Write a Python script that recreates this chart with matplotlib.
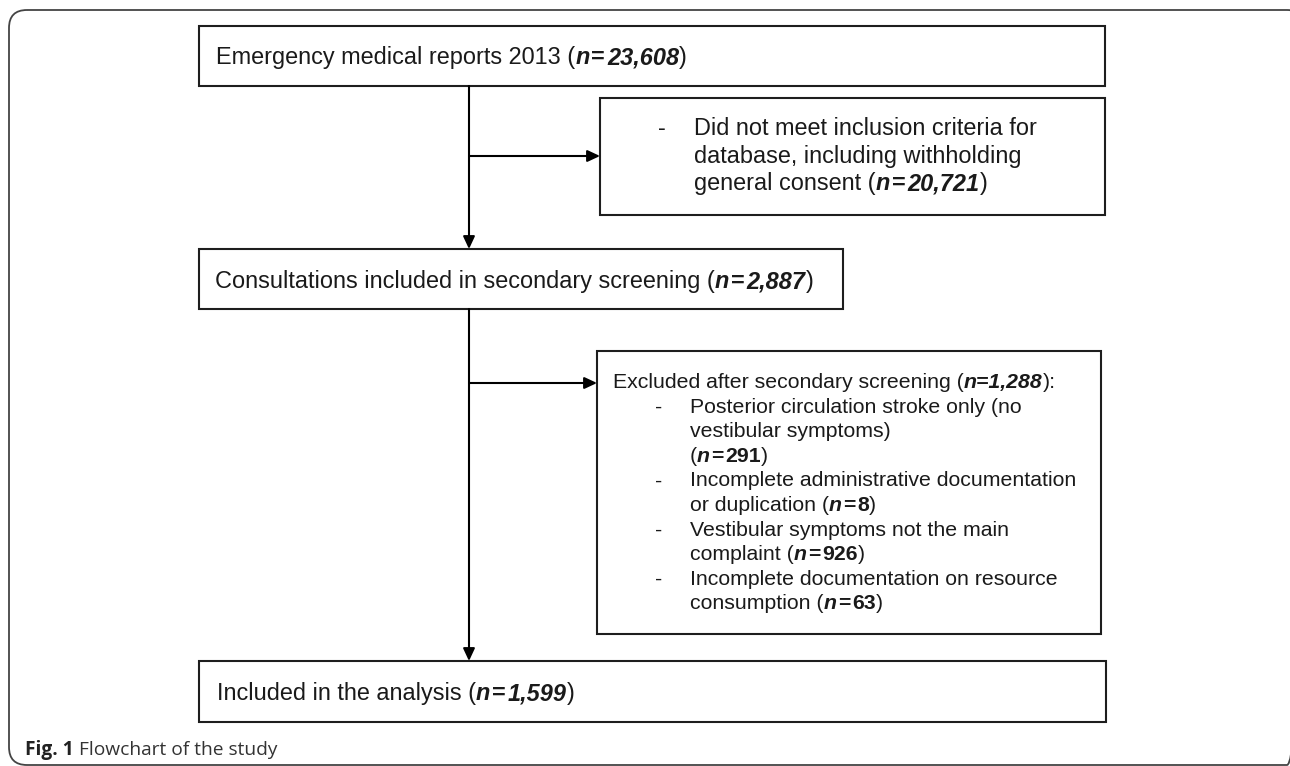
import matplotlib
matplotlib.use("Agg")
import matplotlib.pyplot as plt
from matplotlib.patches import Rectangle, FancyBboxPatch

# counts shown in the flowchart
total_reports = "23,608"
excluded_database = "20,721"
secondary_screening = "2,887"
excluded_secondary = "1,288"
included_analysis = "1,599"

database_reason = ["Did not meet inclusion criteria for",
                   "database, including withholding",
                   "general consent ("]

# wrapped lines for each exclusion reason; the count goes on the last line
exclusion_reasons = [
    ["Posterior circulation stroke only (no", "vestibular symptoms)", "("],
    ["Incomplete administrative documentation", "or duplication ("],
    ["Vestibular symptoms not the main", "complaint ("],
    ["Incomplete documentation on resource", "consumption ("],
]
exclusion_counts = ["291", "8", "926", "63"]

W, H = 1290, 766
FONT = "Liberation Sans"
EDGE = "#1e1e1e"

fig = plt.figure(figsize=(W / 100, H / 100), dpi=100)
ax = fig.add_axes([0, 0, 1, 1])
ax.set_xlim(0, W)
ax.set_ylim(H, 0)
ax.axis("off")
renderer = fig.canvas.get_renderer()


def runs(x, y, parts, size):
    # parts: (text, weight, style) drawn one after the other; a number is a gap in px
    for p in parts:
        if isinstance(p, (int, float)):
            x += p
            continue
        txt, weight, style = p
        t = ax.text(x, y, txt, fontsize=size, family=FONT, fontweight=weight,
                    fontstyle=style, va="baseline", ha="left", color="#1a1a1a")
        x += t.get_window_extent(renderer).width


def box(x0, y0, x1, y1):
    ax.add_patch(Rectangle((x0, y0), x1 - x0, y1 - y0, fill=False,
                           ec=EDGE, lw=1.5))


def arrow(x0, y0, x1, y1):
    ax.annotate("", xy=(x1, y1), xytext=(x0, y0),
                arrowprops=dict(arrowstyle="-|>,head_length=0.75,head_width=0.35",
                                color="black", lw=1.5, shrinkA=0, shrinkB=0))


def n_bi(val):
    return [("n", "bold", "italic"), 2, ("=", "bold", "normal"), 2,
            (val, "bold", "italic")]


# outer rounded frame
ax.add_patch(FancyBboxPatch((27, 28), 1260, 719,
                            boxstyle="round,pad=18,rounding_size=18",
                            fill=False, ec="#444444", lw=1.3, clip_on=False))

main = 16.9
sub = 16.9
small = 15.3

# box 1
box(199, 26, 1105, 86)
runs(216, 64, [("Emergency medical reports 2013 (", "normal", "normal")]
     + n_bi(total_reports) + [(")", "normal", "normal")], main)

# box 2
box(600, 98, 1105, 215)
base = 135
for i, line in enumerate(database_reason):
    y = base + i * 27.5
    if i == 0:
        runs(658, y, [("-", "normal", "normal")], sub)
    parts = [(line, "normal", "normal")]
    if i == len(database_reason) - 1:
        parts += n_bi(excluded_database) + [(")", "normal", "normal")]
    runs(694, y, parts, sub)

# box 3
box(199, 249, 843, 309)
runs(215, 288, [("Consultations included in secondary screening (", "normal", "normal")]
     + n_bi(secondary_screening) + [(")", "normal", "normal")], main)

# box 4
box(597, 351, 1101, 634)
step = 24.6
runs(613, 388, [("Excluded after secondary screening (", "normal", "normal"),
                ("n=" + excluded_secondary, "bold", "italic"),
                ("):", "normal", "normal")], small)
k = 1
for lines, cnt in zip(exclusion_reasons, exclusion_counts):
    for j, line in enumerate(lines):
        y = 388 + k * step
        if j == 0:
            runs(655, y, [("-", "normal", "normal")], small)
        parts = [(line, "normal", "normal")]
        if j == len(lines) - 1:
            parts += [("n", "bold", "italic"), 1.5, ("=", "bold", "normal"), 1.5,
                      (cnt, "bold", "normal"), (")", "normal", "normal")]
        runs(690, y, parts, small)
        k += 1

# box 5
box(199, 661, 1106, 722)
runs(217, 700, [("Included in the analysis (", "normal", "normal")]
     + n_bi(included_analysis) + [(")", "normal", "normal")], main)

# connectors
trunk = 469
arrow(trunk, 86, trunk, 249)
arrow(trunk, 309, trunk, 661)
arrow(trunk, 156, 600, 156)
arrow(trunk, 383, 597, 383)

# caption
t = ax.text(25, 755, "Fig. 1", fontsize=13.8, family="Open Sans", fontweight="bold",
            va="baseline", color="#222222")
ax.text(25 + t.get_window_extent(renderer).width + 5, 755, "Flowchart of the study",
        fontsize=13.8, family="Open Sans", fontweight="normal", va="baseline",
        color="#333333")

fig.savefig("out.png", dpi=100)
